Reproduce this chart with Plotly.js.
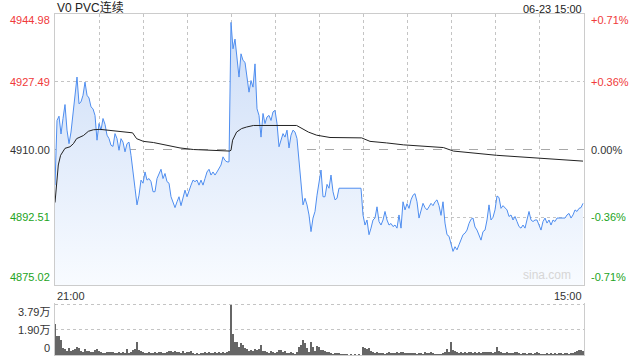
<!DOCTYPE html>
<html><head><meta charset="utf-8">
<script src="https://cdn.plot.ly/plotly-3.0.1.min.js"></script>
<style>html,body{margin:0;padding:0;background:#fff;}#chart{width:640px;height:360px;}</style>
</head><body><div id="chart"></div>
<script>
const title = "V0 PVC连续";
const stamp = "06-23 15:00";
const prevClose = 4910.00;
const priceTicks = [4944.98, 4927.49, 4910.00, 4892.51, 4875.02];
const pctTicks = ["+0.71%", "+0.36%", "0.00%", "-0.36%", "-0.71%"];
const volTicks = [3.79, 1.90, 0];
const volTickText = ["3.79万", "1.90万", "0"];
const timeLabels = ["21:00", "15:00"];

const price = [
4900.8,4917.5,4918.6,4914.0,4918.0,4921.6,4915.0,4911.5,4914.5,4918.8,
4923.1,4928.7,4921.8,4922.3,4924.0,4927.4,4924.0,4923.3,4921.0,4920.5,
4918.8,4912.4,4916.7,4915.0,4918.0,4916.5,4913.7,4912.8,4911.1,4910.8,
4914.1,4912.8,4909.8,4912.8,4911.9,4909.4,4911.5,4911.9,4908.5,4903.4,
4900.0,4895.7,4898.2,4902.1,4901.3,4904.2,4902.1,4902.5,4901.7,4899.1,
4899.1,4902.5,4903.8,4904.9,4902.5,4903.8,4901.7,4901.3,4897.8,4896.1,
4895.0,4896.5,4897.8,4895.5,4897.8,4899.5,4897.8,4899.5,4900.8,4902.1,
4901.7,4902.1,4900.8,4902.1,4900.8,4902.5,4904.2,4904.9,4903.4,4904.2,
4903.4,4904.2,4905.1,4906.0,4908.1,4907.2,4906.8,4906.8,4942.8,4936.0,
4938.5,4933.4,4928.7,4934.7,4933.0,4932.5,4928.3,4924.8,4927.8,4926.1,
4932.1,4920.5,4918.8,4913.2,4919.3,4916.7,4918.4,4918.8,4917.5,4919.7,
4920.1,4916.7,4910.7,4912.4,4914.1,4913.2,4915.0,4910.4,4913.7,4915.0,
4914.5,4912.8,4907.5,4901.5,4895.7,4897.4,4895.7,4893.1,4888.8,4892.3,
4894.0,4898.2,4902.1,4904.7,4897.8,4897.8,4901.0,4900.0,4903.4,4899.1,
4897.0,4897.4,4900.0,4900.0,4900.0,4900.0,4900.0,4900.0,4900.0,4900.0,
4900.0,4900.0,4900.0,4900.0,4893.1,4890.5,4891.8,4888.0,4889.7,4891.8,
4892.3,4895.2,4891.4,4890.5,4891.8,4894.0,4891.8,4890.5,4890.9,4890.1,
4890.5,4889.7,4893.1,4889.7,4896.5,4894.4,4896.0,4894.8,4897.0,4898.2,
4898.6,4896.5,4892.3,4894.4,4896.1,4895.0,4894.4,4895.2,4896.1,4895.5,
4896.5,4897.0,4895.5,4893.0,4896.5,4891.0,4888.0,4887.6,4885.4,4883.7,
4884.9,4884.1,4885.4,4886.6,4888.0,4888.4,4889.2,4890.9,4892.0,4892.3,
4890.0,4889.2,4888.0,4886.6,4888.8,4889.2,4891.8,4895.7,4891.8,4892.5,
4894.4,4898.0,4897.6,4894.8,4895.5,4894.8,4894.4,4892.7,4893.1,4891.8,
4892.7,4891.4,4890.1,4889.7,4890.5,4889.7,4891.8,4894.0,4891.8,4891.4,
4891.8,4891.8,4890.5,4889.2,4891.4,4892.3,4891.0,4891.8,4890.5,4891.8,
4891.4,4892.3,4892.3,4892.3,4892.3,4892.3,4893.1,4893.5,4892.3,4893.1,
4894.4,4894.0,4894.8,4895.0,4896.1];

const volume = [
2.32,1.43,1.43,1.17,0.51,0.46,0.33,0.51,0.33,0.38,
0.46,0.64,0.54,0.33,0.2,0.46,0.28,0.33,0.26,0.2,
0.41,0.46,0.28,0.2,0.15,0.15,0.26,0.2,0.26,0.2,
0.15,0.13,0.2,0.13,0.2,0.15,0.46,0.15,0.2,0.38,
0.46,1.02,0.38,0.28,0.2,0.15,0.15,0.2,0.13,0.18,
0.2,0.15,0.26,0.2,0.15,0.13,0.2,0.33,0.28,0.2,
0.33,0.2,0.26,0.15,0.28,0.15,0.2,0.26,0.33,0.15,
0.1,0.15,0.1,0.15,0.13,0.2,0.15,0.2,0.13,0.15,
0.2,0.15,0.2,0.15,0.2,0.15,0.2,0.33,3.79,1.56,
1.02,1.02,0.59,0.92,0.79,0.51,0.46,0.33,0.38,0.33,
0.46,0.38,0.46,0.79,0.33,0.28,0.2,0.15,0.33,0.26,
0.15,0.26,0.38,0.38,0.26,0.33,0.15,0.15,0.26,0.15,
0.08,0.2,0.64,0.77,1.1,0.92,0.51,0.2,1.02,0.64,
0.33,0.66,0.59,0.41,0.38,0.33,0.26,0.2,0.15,0.08,
0.13,0.13,0.13,0.08,0.05,0.08,0.05,0.03,0.05,0.03,
0.05,0.03,0.05,0.03,0.64,0.51,0.46,0.51,0.33,0.2,
0.13,0.2,0.15,0.15,0.13,0.08,0.13,0.2,0.15,0.13,
0.13,0.2,0.15,0.26,0.2,0.15,0.13,0.15,0.15,0.13,
0.15,0.1,0.15,0.13,0.08,0.2,0.13,0.15,0.2,0.13,
0.08,0.05,0.1,0.08,0.13,0.2,0.46,0.2,0.97,0.38,
0.33,0.2,0.13,0.2,0.15,0.2,0.15,0.2,0.2,0.15,
0.2,0.13,0.2,0.15,0.2,0.26,0.2,0.26,0.2,0.15,
0.26,0.59,0.33,0.2,0.13,0.15,0.2,0.13,0.15,0.13,
0.2,0.26,0.13,0.1,0.15,0.13,0.1,0.15,0.13,0.1,
0.15,0.2,0.15,0.1,0.08,0.1,0.13,0.1,0.15,0.1,
0.13,0.1,0.13,0.15,0.1,0.13,0.15,0.1,0.13,0.15,
0.2,0.28,0.38,0.41,0.33];

const avgIdx = [0,1.65,2.8,5,7.5,9.2,10.8,12.5,14.2,16.7,19.2,22.5,25.8,30.8,35.8,38.8,40.8,44.2,49.2,55.8,62.5,69.2,75.8,82.5,87.2,88,88.8,90.8,93.3,95.8,99.2,120.8,123.3,126.7,130.8,137.5,153.3,157.5,165.8,174.2,194.2,199.2,220.8,242.5,264];
const avgVal = [4896.3,4906.0,4908.5,4910.3,4910.7,4911.5,4912.8,4913.2,4913.6,4914.7,4915.1,4915.2,4915.0,4914.8,4914.5,4914.3,4912.8,4912.1,4911.8,4911.1,4910.4,4910.0,4909.8,4909.6,4909.6,4909.8,4912.4,4914.5,4915.4,4915.8,4916.2,4916.2,4915.4,4914.5,4913.7,4913.1,4913.0,4912.1,4911.7,4911.2,4910.5,4909.6,4908.5,4907.7,4907.0];

const idx = price.map((_, i) => i);
const xMax = price.length - 0.5;
const gridX = [];
for (let k = 1; k < 12; k++) gridX.push(k * (price.length - 1) / 12);

const RED = "#f03a3a", GREEN = "#22a322", DARK = "#333333";
const tickColor = (v) => v > prevClose + 0.001 ? RED : (v < prevClose - 0.001 ? GREEN : DARK);
const FONT = "Liberation Sans, Arial, sans-serif";
const CJK = "Liberation Sans, Noto Sans CJK SC, sans-serif";
const GRID = "#c4c4c4";

const traces = [
  {x: idx, y: price, type: "scatter", mode: "lines", xaxis: "x", yaxis: "y",
   line: {color: "#4f8ef0", width: 1}, fill: "tozeroy",
   fillgradient: {type: "vertical", start: priceTicks[4], stop: priceTicks[0],
     colorscale: [[0, "rgba(248,251,255,1)"], [1, "rgba(203,220,247,1)"]]},
   hoverinfo: "skip"},
  {x: avgIdx, y: avgVal, type: "scatter", mode: "lines", xaxis: "x", yaxis: "y",
   line: {color: "#222222", width: 1}, hoverinfo: "skip"},
  {x: idx, y: volume, type: "bar", xaxis: "x2", yaxis: "y2", width: 0.55,
   marker: {color: "#666666", line: {width: 0}}, hoverinfo: "skip"}
];

const annotations = [];
priceTicks.forEach((v, k) => {
  const shift = k === 0 ? -6 : (k === priceTicks.length - 1 ? 8 : 0);
  annotations.push({xref: "paper", yref: "y", x: 0, y: v, xanchor: "right", yanchor: "middle",
    xshift: -3, yshift: shift, showarrow: false, text: v.toFixed(2),
    font: {family: FONT, size: 11, color: tickColor(v)}});
  annotations.push({xref: "paper", yref: "y", x: 1, y: v, xanchor: "left", yanchor: "middle",
    xshift: 5, yshift: shift, showarrow: false, text: pctTicks[k],
    font: {family: FONT, size: 11, color: tickColor(v)}});
});
volTicks.forEach((v, k) => {
  const shift = k === 0 ? -7 : (k === volTicks.length - 1 ? 7 : 0);
  annotations.push({xref: "paper", yref: "y2", x: 0, y: v, xanchor: "right", yanchor: "middle",
    xshift: -3, yshift: shift, showarrow: false, text: volTickText[k],
    font: {family: CJK, size: 11, color: DARK}});
});
const timeY = 0.1965;
annotations.push({xref: "paper", yref: "paper", x: 0, y: timeY, xanchor: "left", yanchor: "top",
  showarrow: false, text: timeLabels[0], font: {family: FONT, size: 11, color: DARK}});
annotations.push({xref: "paper", yref: "paper", x: 1, y: timeY, xanchor: "right", yanchor: "top",
  showarrow: false, text: timeLabels[1], font: {family: FONT, size: 11, color: DARK}});
annotations.push({xref: "paper", yref: "paper", x: 0, y: 1, xanchor: "left", yanchor: "bottom",
  yshift: -3, showarrow: false, text: title, font: {family: CJK, size: 12, color: "#222"}});
annotations.push({xref: "paper", yref: "paper", x: 1, y: 1, xanchor: "right", yanchor: "bottom",
  yshift: -3, showarrow: false, text: stamp, font: {family: FONT, size: 11, color: "#222"}});
annotations.push({xref: "paper", yref: "y", x: 0.98, y: priceTicks[4], xanchor: "right", yanchor: "bottom",
  yshift: 1, showarrow: false, text: "sina.com", font: {family: FONT, size: 12, color: "#d6d6d6"}});

const layout = {
  width: 640, height: 360,
  margin: {l: 55, r: 56, t: 14, b: 5, pad: 0},
  paper_bgcolor: "#ffffff", plot_bgcolor: "#ffffff",
  showlegend: false,
  xaxis: {domain: [0, 1], range: [0, xMax], anchor: "y", tickvals: gridX, showticklabels: false,
    ticks: "", showgrid: true, gridcolor: GRID, griddash: "dot", gridwidth: 1,
    showline: true, mirror: true, linecolor: "#cccccc", linewidth: 1, zeroline: false, fixedrange: true},
  yaxis: {domain: [0.2053, 1], range: [priceTicks[4], priceTicks[0]], tickvals: [priceTicks[1], priceTicks[3]],
    showticklabels: false, ticks: "", showgrid: true, gridcolor: GRID, griddash: "dot",
    showline: true, mirror: true, linecolor: "#cccccc", linewidth: 1, zeroline: false, fixedrange: true},
  xaxis2: {domain: [0, 1], range: [0, xMax], anchor: "y2", showticklabels: false, ticks: "",
    showgrid: false, showline: true, mirror: false, linecolor: "#cccccc", zeroline: false, fixedrange: true},
  yaxis2: {domain: [0, 0.1525], range: [0, volTicks[0] * 52 / 50], tickvals: [volTicks[1], volTicks[0]],
    showticklabels: false, ticks: "", showgrid: true, gridcolor: GRID, griddash: "dot",
    showline: true, mirror: true, linecolor: "#cccccc", zeroline: false, fixedrange: true},
  bargap: 0,
  shapes: [{type: "line", xref: "x domain", yref: "y", x0: 0, x1: 1, y0: prevClose, y1: prevClose,
    line: {color: "#a8a8a8", width: 1, dash: "dash"}, layer: "below"}],
  annotations: annotations
};

Plotly.newPlot("chart", traces, layout, {staticPlot: true, displayModeBar: false});
</script>
</body></html>
